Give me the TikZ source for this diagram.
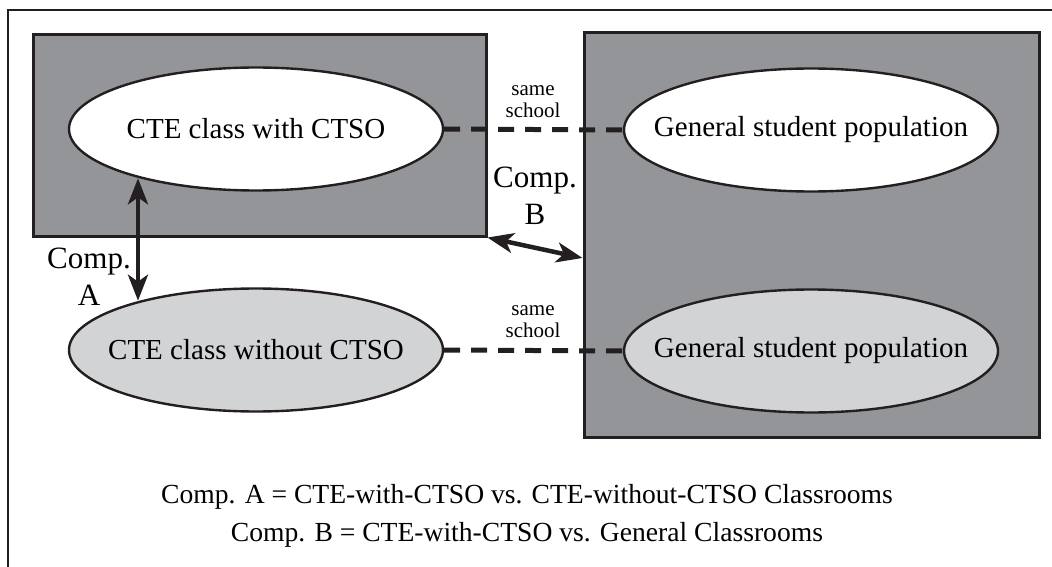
\documentclass[tikz,border=0pt]{standalone}
\usepackage{fontspec}
\setmainfont{Liberation Serif}
\usetikzlibrary{shapes.geometric,arrows.meta,calc}
\definecolor{boxgray}{HTML}{939598}
\definecolor{ovalgray}{HTML}{D1D3D4}
\definecolor{ink}{HTML}{231F20}
\tikzset{
  group/.style={draw=ink,line width=3pt,fill=boxgray,rectangle,inner sep=0pt},
  oval/.style={draw=ink,line width=2.4pt,ellipse,inner sep=0pt,
    minimum width=374pt,minimum height=123pt},
  ovaltext/.style={inner sep=0pt,font=\fontsize{29}{34}\selectfont},
  tie/.style={ink,line width=5pt,dash pattern=on 16pt off 11pt},
  comp/.style={ink,line width=4.5pt,
    {Stealth[length=26pt,width=20pt,inset=7pt]}-{Stealth[length=26pt,width=20pt,inset=7pt]}},
  note/.style={align=center,inner sep=0pt,font=\fontsize{21}{22}\selectfont},
  label/.style={align=center,inner sep=0pt,font=\fontsize{31}{37}\selectfont},
  legend/.style={align=center,inner sep=0pt,font=\fontsize{27.6}{38}\selectfont}
}
\begin{document}
\begin{tikzpicture}[x=1pt,y=-1pt]
\useasboundingbox (0,0) rectangle (1052,567);
% outer frame (runs off the page on the right and bottom)
\draw[ink,line width=2.5pt] (1070,10) -- (8,10) -- (8,590);
% the two shaded groups
\node[group,minimum width=453pt,minimum height=201pt] (lb) at (259.5,135.5) {};
\node[group,minimum width=455pt,minimum height=404pt] (rb) at (811.5,235) {};
% classes and populations
\node[oval,fill=white] (e1) at (256,129) {};
\node[oval,fill=ovalgray] (e3) at (256,350) {};
\node[oval,fill=white] (e2) at (811,130) {};
\node[oval,fill=ovalgray] (e4) at (811,351) {};
\node[ovaltext] (t1) at (e1.center) {CTE class with CTSO};
\node[ovaltext] (t3) at (e3.center) {CTE class without CTSO};
\node[ovaltext] (t2) at (e2.center) {General student population};
\node[ovaltext] (t4) at (e4.center) {General student population};
% same-school links
\draw[tie] (e1.east) -- (e2.west);
\draw[tie] (e3.east) -- (e4.west);
\node[note] (s1) at (533,102) {same\\school};
\node[note] (s2) at (533,322) {same\\school};
% comparisons
\coordinate (ax) at (138,0);
\draw[comp] (e1.203 -| ax) -- (e3.157 -| ax);
\node[label] (ca) at (89,277) {Comp.\\A};
\coordinate (bend) at ($(rb.west)+(0,23)$);
\draw[comp] (lb.south east) -- (bend);
\node[label] (cb) at (535,196) {Comp.\\B};
% legend
\node[legend] (lg) at (527,516) {Comp. A = CTE-with-CTSO vs. CTE-without-CTSO Classrooms\\
Comp. B = CTE-with-CTSO vs. General Classrooms};
\end{tikzpicture}
\end{document}
